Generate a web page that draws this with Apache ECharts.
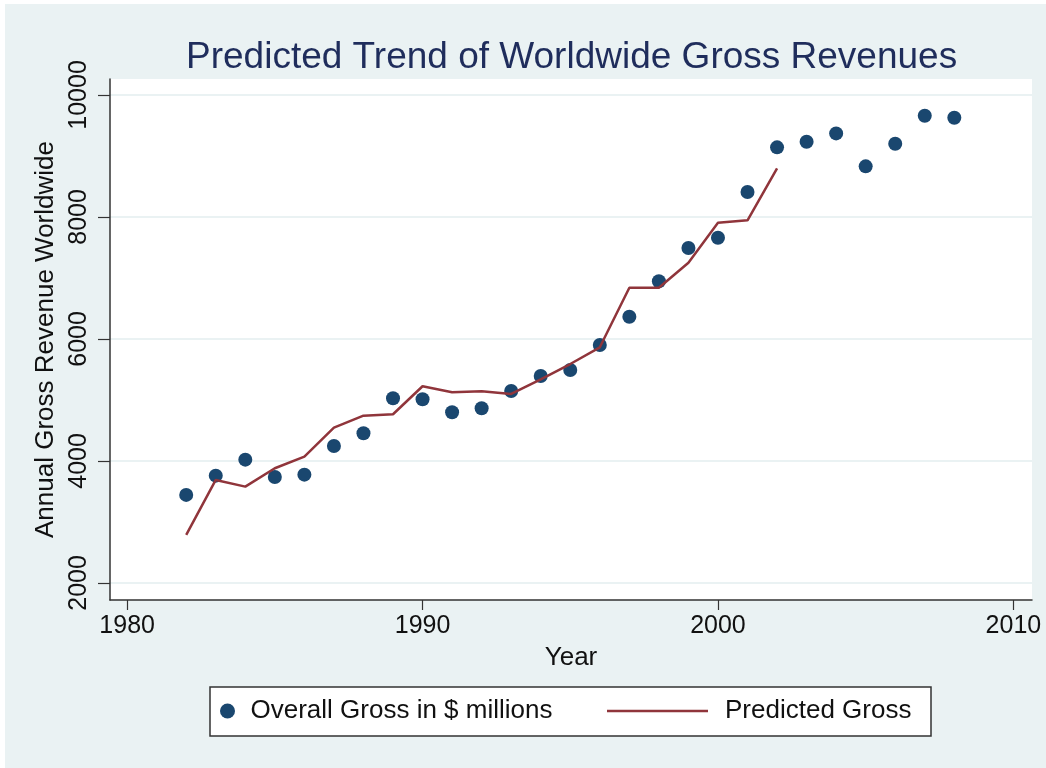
<!DOCTYPE html>
<html>
<head>
<meta charset="utf-8">
<script src="https://cdn.jsdelivr.net/npm/echarts@6/dist/echarts.min.js"></script>
<style>
html,body{margin:0;padding:0;background:#ffffff;}
#chart{width:1046px;height:768px;}
</style>
</head>
<body>
<div id="chart"></div>
<script>
// ---- data ----
const titleText = 'Predicted Trend of Worldwide Gross Revenues';
const xAxisName = 'Year';
const yAxisName = 'Annual Gross Revenue Worldwide';
const seriesNames = ['Overall Gross in $ millions', 'Predicted Gross'];

const grossYears = [1982,1983,1984,1985,1986,1987,1988,1989,1990,1991,1992,1993,1994,1995,1996,1997,1998,1999,2000,2001,2002,2003,2004,2005,2006,2007,2008];
const grossValues = [3443,3759,4021,3737,3775,4245,4453,5027,5011,4798,4863,5147,5393,5491,5901,6365,6945,7491,7660,8409,9141,9233,9370,8830,9200,9659,9626];

const predYears = [1982,1983,1984,1985,1986,1987,1988,1989,1990,1991,1992,1993,1994,1995,1996,1997,1998,1999,2000,2001,2002];
const predValues = [2787,3688,3579,3880,4070,4546,4742,4765,5224,5126,5142,5098,5339,5589,5863,6840,6840,7250,7905,7945,8797];

const xTicks = [1980,1990,2000,2010];
const yTicks = [2000,4000,6000,8000,10000];

// ---- chart ----
const FONT = '"Liberation Sans", Arial, Helvetica, sans-serif';
const chart = echarts.init(document.getElementById('chart'), null, {renderer:'canvas'});

const option = {
  animation: false,
  backgroundColor: '#ffffff',
  graphic: [
    {type:'rect', z:-10, silent:true, shape:{x:5,y:4,width:1041,height:764}, style:{fill:'#EAF2F3'}},
    {type:'rect', z:-1, silent:true, shape:{x:210,y:687,width:721,height:49}, style:{fill:'#ffffff', stroke:'#333333', lineWidth:1.5}}
  ],
  title: {
    text: titleText,
    left: 181,
    top: 34,
    textStyle: {fontFamily: FONT, fontSize: 37, fontWeight: 'normal', color: '#1F2D5C'}
  },
  legend: [
    {
      data: [{name: seriesNames[0], icon: 'circle'}],
      left: 220, top: 698, padding: 0,
      itemWidth: 36, itemHeight: 15,
      textStyle: {fontFamily: FONT, fontSize: 26, color: '#111111'}
    },
    {
      data: [{name: seriesNames[1], icon: 'rect'}],
      left: 607, top: 698, padding: 0,
      itemWidth: 101, itemHeight: 2.5,
      itemStyle: {color: '#90353B'},
      textStyle: {fontFamily: FONT, fontSize: 26, color: '#111111', padding: [0,0,0,12]}
    }
  ],
  grid: {
    left: 110, right: 14, top: 79, bottom: 168,
    show: true, backgroundColor: '#ffffff', borderWidth: 0
  },
  xAxis: {
    type: 'value',
    min: 1979.42, max: 2010.63,
    name: xAxisName, nameLocation: 'middle', nameGap: 45,
    nameTextStyle: {fontFamily: FONT, fontSize: 26, color: '#111111'},
    axisLine: {show: true, onZero: false, lineStyle: {color: '#333333', width: 1.5}},
    axisTick: {show: true, length: 10, customValues: xTicks, lineStyle: {color: '#333333', width: 1.2}},
    axisLabel: {customValues: xTicks, margin: 14, fontFamily: FONT, fontSize: 25, color: '#111111', formatter: v => String(v)},
    splitLine: {show: false}
  },
  yAxis: {
    type: 'value',
    min: 1720, max: 10262,
    name: yAxisName, nameLocation: 'middle', nameGap: 40,
    nameTextStyle: {fontFamily: FONT, fontSize: 26, color: '#111111'},
    axisLine: {show: true, onZero: false, lineStyle: {color: '#333333', width: 1.5}},
    axisTick: {show: true, length: 12, customValues: yTicks, lineStyle: {color: '#333333', width: 1.2}},
    axisLabel: {customValues: yTicks, rotate: 90, margin: 18, fontFamily: FONT, fontSize: 25, color: '#111111', formatter: v => String(v)},
    splitLine: {show: true, lineStyle: {color: '#EAF2F3', width: 2}}
  },
  series: [
    {
      name: seriesNames[0],
      type: 'scatter',
      symbol: 'circle',
      symbolSize: 14,
      itemStyle: {color: '#1A476F', opacity: 1},
      data: grossYears.map((y, i) => [y, grossValues[i]]),
      z: 3
    },
    {
      name: seriesNames[1],
      type: 'line',
      symbol: 'none',
      lineStyle: {color: '#90353B', width: 2.5},
      itemStyle: {color: '#90353B'},
      data: predYears.map((y, i) => [y, predValues[i]]),
      z: 4
    }
  ]
};
chart.setOption(option);
</script>
</body>
</html>
